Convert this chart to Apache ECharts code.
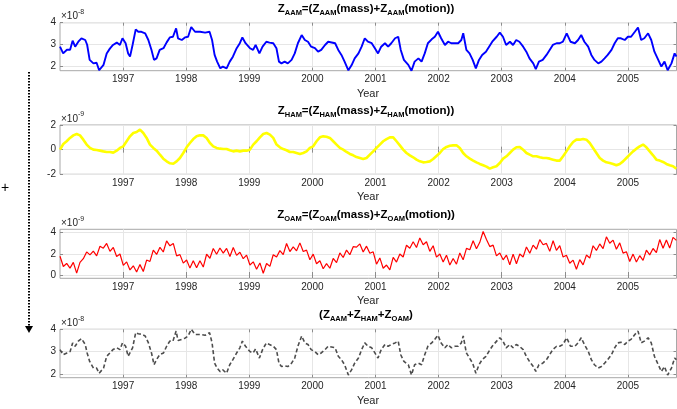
<!DOCTYPE html>
<html><head><meta charset="utf-8">
<script src="https://cdn.jsdelivr.net/npm/echarts@6/dist/echarts.min.js"></script>
<style>html,body{margin:0;padding:0;background:#fff}#c{width:677px;height:409px}</style>
</head><body><div id="c"></div>
<script>
// ---------- tick labels ----------
const yearTicks = [1997, 1998, 1999, 2000, 2001, 2002, 2003, 2004, 2005];
const aamTicks = [2, 3, 4];
const hamTicks = [-2, 0, 2];
const oamTicks = [0, 2, 4];
const totTicks = [2, 3, 4];

// ---------- AAM / total series (decimal years, values in units of the axis exponent) ----------
const aamYears = [
1996.00,1996.05,1996.11,1996.16,1996.20,1996.24,1996.29,1996.34,1996.40,1996.43,
1996.47,1996.53,1996.58,1996.62,1996.69,1996.74,1996.79,1996.84,1996.90,1996.95,
1996.99,1997.04,1997.08,1997.11,1997.15,1997.20,1997.24,1997.29,1997.35,1997.40,
1997.45,1997.49,1997.53,1997.58,1997.64,1997.69,1997.74,1997.79,1997.84,1997.87,
1997.93,1997.98,1998.03,1998.08,1998.14,1998.22,1998.30,1998.37,1998.41,1998.45,
1998.49,1998.54,1998.58,1998.64,1998.69,1998.74,1998.80,1998.85,1998.89,1998.94,
1999.01,1999.06,1999.10,1999.16,1999.21,1999.27,1999.32,1999.38,1999.43,1999.47,
1999.51,1999.56,1999.61,1999.67,1999.72,1999.77,1999.83,1999.88,1999.93,1999.98,
2000.04,2000.09,2000.14,2000.20,2000.25,
2000.28,2000.36,2000.41,2000.46,2000.51,2000.57,2000.62,2000.67,2000.73,2000.78,
2000.83,2000.88,2000.94,2000.99,2001.04,2001.09,2001.15,2001.20,2001.25,2001.31,
2001.36,2001.40,2001.45,2001.52,2001.57,2001.62,2001.68,2001.73,2001.78,2001.83,
2001.89,2001.94,2001.99,2002.04,2002.10,2002.15,2002.20,2002.26,2002.31,2002.36,
2002.39,2002.44,2002.49,2002.54,2002.59,2002.64,2002.69,2002.75,2002.80,2002.85,
2002.92,2002.97,2003.02,2003.07,2003.13,2003.18,2003.23,2003.28,2003.34,2003.39,
2003.44,2003.50,2003.54,2003.59,2003.65,2003.71,2003.76,2003.81,2003.87,2003.92,
2003.97,2004.03,2004.09,2004.16,2004.21,2004.26,2004.31,2004.37,2004.42,2004.47,
2004.53,2004.58,2004.63,2004.68,2004.74,2004.79,2004.84,2004.89,2004.95,2005.00,
2005.05,2005.11,2005.16,2005.21,2005.26,2005.32,2005.37,2005.42,2005.47,2005.53,
2005.58,2005.63,2005.69,2005.74,2005.77];

const aamValues = [
2.89,2.58,2.75,2.75,3.17,2.89,3.12,3.28,3.20,2.98,
2.28,2.12,2.15,1.80,2.05,2.58,2.80,2.97,3.08,2.97,
3.28,3.05,2.58,2.43,2.97,3.69,3.58,3.58,3.51,3.20,
2.74,2.28,2.35,2.74,2.82,3.09,3.32,3.35,3.74,3.28,
3.20,3.32,3.35,3.80,3.58,3.58,3.54,3.58,3.20,2.51,
2.20,1.89,1.97,1.89,2.20,2.43,2.82,3.05,3.32,3.05,
2.82,2.74,2.97,2.58,2.89,3.12,3.08,3.05,2.82,2.20,
2.12,2.20,2.12,2.28,2.58,3.05,3.43,3.20,3.12,2.89,
2.82,2.66,2.74,2.97,3.12,
3.12,3.05,2.74,2.51,2.20,1.80,2.03,2.35,2.58,2.89,
3.28,3.12,3.05,2.82,2.58,2.89,3.05,2.89,3.05,3.28,
3.35,2.74,2.28,2.05,1.78,2.20,2.35,2.20,2.58,3.05,
3.23,3.35,3.58,3.28,2.97,3.12,3.05,3.05,3.05,3.20,
3.51,2.74,2.58,2.28,1.89,2.28,2.51,2.66,2.89,3.12,
3.35,3.54,3.35,2.97,3.12,2.97,3.20,3.12,2.89,2.66,
2.35,2.12,1.85,2.20,2.28,2.51,2.74,2.97,3.05,3.05,
3.12,3.51,3.12,3.05,3.20,3.43,3.12,2.89,2.51,2.28,
2.12,2.20,2.35,2.51,2.74,3.05,3.28,3.28,3.20,3.35,
3.35,3.58,3.78,3.20,3.28,3.51,3.20,2.66,2.35,1.97,
2.20,1.80,2.12,2.58,2.43];

const totValues = [
3.09,2.86,2.94,3.00,3.39,3.24,3.47,3.58,3.32,2.94,
2.56,2.26,2.26,2.03,2.26,2.79,2.94,3.09,3.17,3.09,
3.39,3.24,2.79,2.71,3.17,3.85,3.80,3.78,3.70,3.40,
2.94,2.41,2.64,2.86,2.94,3.24,3.47,3.47,3.92,3.50,
3.55,3.60,3.70,4.00,3.77,3.77,3.73,3.85,3.39,2.48,
2.26,2.10,2.18,2.03,2.41,2.64,2.94,3.17,3.47,3.24,
3.00,2.94,3.12,2.71,3.09,3.39,3.32,3.24,3.09,2.48,
2.33,2.36,2.33,2.48,2.71,3.24,3.70,3.39,3.32,3.09,
3.00,2.86,2.94,3.09,3.24,
3.24,3.17,2.79,2.64,2.41,1.95,2.18,2.48,2.71,3.09,
3.39,3.24,3.17,2.94,2.71,3.09,3.32,3.24,3.32,3.39,
3.47,2.86,2.56,2.41,1.95,2.41,2.48,2.41,2.86,3.24,
3.39,3.55,3.73,3.39,3.17,3.32,3.17,3.24,3.24,3.39,
3.70,2.94,2.71,2.48,2.03,2.41,2.64,2.79,3.02,3.24,
3.47,3.62,3.47,3.17,3.32,3.17,3.32,3.24,3.09,2.79,
2.56,2.33,2.11,2.41,2.48,2.64,2.86,3.09,3.24,3.24,
3.32,3.62,3.24,3.24,3.39,3.62,3.32,3.02,2.64,2.41,
2.26,2.33,2.48,2.64,2.86,3.17,3.39,3.42,3.32,3.47,
3.55,3.77,3.92,3.39,3.47,3.62,3.39,2.79,2.48,2.11,
2.33,1.95,2.26,2.71,2.64];

// ---------- HAM / OAM series on a regular sampling grid ----------
const gridStart = 1996.0;
const gridStep = 0.0528;

const hamValues = [
0,0.46,0.68,0.95,1.16,1.27,1.16,0.81,0.41,0.14,
0,-0.03,-0.08,-0.14,-0.19,-0.19,-0.24,-0.08,0.14,0.27,
0.68,1.08,1.35,1.43,1.62,1.35,0.95,0.41,0.14,-0.08,
-0.41,-0.73,-0.95,-1.11,-1.14,-0.95,-0.68,-0.27,0.19,0.54,
0.86,1.08,1.16,1.16,0.95,0.54,0.27,0.14,0.08,0.05,
0.05,-0.05,-0.14,-0.08,-0.14,-0.08,-0.08,0,0.41,0.68,
1.0,1.27,1.35,1.22,0.95,0.41,0.19,0.05,-0.05,-0.19,
-0.19,-0.27,-0.35,-0.27,-0.14,0.14,0.27,0.68,1.0,1.08,
1.05,0.95,0.68,0.41,0.14,0,-0.19,-0.35,-0.46,-0.6,
-0.68,-0.76,-0.68,-0.41,-0.14,0.14,0.41,0.68,0.86,1.0,
1.0,0.68,0.35,0,-0.27,-0.46,-0.62,-0.81,-0.95,-1.03,
-1.0,-0.95,-0.76,-0.51,-0.27,0.05,0.22,0.32,0.35,0.35,
0.14,-0.27,-0.54,-0.73,-0.89,-1.03,-1.16,-1.27,-1.38,-1.54,
-1.43,-1.35,-1.08,-0.73,-0.54,-0.27,0,0.19,0.22,0,
-0.27,-0.41,-0.54,-0.54,-0.62,-0.68,-0.68,-0.73,-0.81,-0.89,
-0.89,-0.54,-0.14,0.27,0.62,0.81,0.81,0.86,0.81,0.54,
0.14,-0.27,-0.68,-0.89,-1.03,-1.08,-1.16,-1.27,-1.16,-0.95,
-0.68,-0.41,-0.14,0.08,0.27,0.41,0.19,-0.14,-0.46,-0.81,
-0.89,-1.0,-1.16,-1.27,-1.35,-1.54];

const oamValues = [
1.77,0.80,1.09,0.65,1.19,0.18,1.19,1.54,2.18,1.90,
2.25,1.80,2.71,2.53,2.98,2.23,2.60,1.75,1.98,0.91,
1.24,0.48,0.87,0.29,0.98,0.33,1.41,1.28,2.35,1.94,
2.61,2.17,3.22,2.75,2.98,1.80,1.92,1.12,1.41,0.65,
1.34,0.68,1.35,0.75,1.96,1.58,2.50,1.96,2.55,2.06,
2.51,1.75,2.60,1.85,2.14,1.54,1.87,0.95,1.24,0.54,
1.14,0.17,1.09,0.81,1.91,1.69,2.30,1.92,2.97,2.21,
2.66,2.28,3.03,2.22,2.35,1.44,1.97,1.06,1.35,0.59,
1.08,0.64,1.56,1.17,2.08,1.65,2.35,1.91,2.67,2.63,
2.93,2.17,2.72,2.05,2.19,1.02,1.61,0.64,0.94,0.49,
1.66,1.22,1.98,1.70,2.81,2.53,3.13,2.59,3.50,2.85,
3.14,2.23,2.76,1.69,1.98,1.22,1.87,0.95,1.56,1.02,
2.08,1.43,2.51,2.38,3.23,2.48,3.08,4.10,3.35,2.68,
2.82,1.80,2.08,1.43,1.88,0.97,1.97,1.06,1.98,1.70,
2.65,2.05,2.82,2.43,3.34,2.85,2.98,2.23,3.23,2.32,
2.77,1.70,1.87,1.11,1.40,0.54,1.45,0.96,1.88,1.60,
2.76,2.32,2.93,2.48,3.60,3.00,3.29,2.43,3.03,2.06,
2.20,1.28,1.97,1.22,1.82,1.38,2.34,1.90,2.50,2.12,
3.34,2.53,3.30,2.54,3.55,3.27];

// ---------- titles (text pieces, 1 = subscript) ----------
const aamTitle = [['Z',0],['AAM',1],['=(Z',0],['AAM',1],['(mass)+Z',0],['AAM',1],['(motion))',0]];
const hamTitle = [['Z',0],['HAM',1],['=(Z',0],['HAM',1],['(mass)+Z',0],['HAM',1],['(motion))',0]];
const oamTitle = [['Z',0],['OAM',1],['=(Z',0],['OAM',1],['(mass)+Z',0],['OAM',1],['(motion))',0]];
const totTitle = [['(Z',0],['AAM',1],['+Z',0],['HAM',1],['+Z',0],['OAM',1],[')',0]];

const XMIN = 1996.0, XMAX = 2005.77;
const FONT = '"Liberation Sans", Arial, Helvetica, sans-serif';
const gridYears = hamValues.map((_, i) => +(gridStart + i * gridStep).toFixed(4));

const panels = [
  {top: 22.7, height: 48.0, min: 1.78, max: 4.0, ticks: aamTicks, exp: '-8', title: aamTitle,
   data: aamYears.map((t, i) => [t, aamValues[i]]), line: {color: '#0000ff', width: 1.9}},
  {top: 125.0, height: 49.3, min: -2, max: 2, ticks: hamTicks, exp: '-9', title: hamTitle,
   data: gridYears.map((t, i) => [t, hamValues[i]]), line: {color: '#ffff00', width: 2.6}},
  {top: 229.3, height: 49.0, min: -0.31, max: 4.31, ticks: oamTicks, exp: '-9', title: oamTitle,
   data: gridYears.map((t, i) => [t, oamValues[i]]), line: {color: '#ff0000', width: 1.2}},
  {top: 329.3, height: 48.4, min: 1.83, max: 4.0, ticks: totTicks, exp: '-8', title: totTitle,
   data: aamYears.map((t, i) => [t, totValues[i]]), line: {color: '#4d4d4d', width: 1.6, type: [4, 2.5]}}
];

const LEFT = 60, WIDTH = 616.5;
const grid = [], xAxis = [], yAxis = [], series = [], graphic = [];
const tickColor = '#8c8c8c', splitColor = '#e6e6e6', labelColor = '#262626';

panels.forEach((p, i) => {
  grid.push({left: LEFT, top: p.top, width: WIDTH, height: p.height, show: true,
             borderColor: '#a8a8a8', borderWidth: 1, backgroundColor: 'transparent'});
  xAxis.push({gridIndex: i, type: 'value', min: XMIN, max: XMAX, position: 'bottom',
    axisLine: {show: false},
    axisTick: {show: true, inside: true, length: 3, customValues: yearTicks, lineStyle: {color: tickColor}},
    axisLabel: {customValues: yearTicks, fontSize: 10, color: labelColor, margin: 4, fontFamily: FONT,
                formatter: v => String(Math.round(v))},
    splitLine: {show: true, lineStyle: {color: splitColor, width: 1}}});
  xAxis.push({gridIndex: i, type: 'value', min: XMIN, max: XMAX, position: 'top',
    axisLine: {show: false},
    axisTick: {show: true, inside: true, length: 3, customValues: yearTicks, lineStyle: {color: tickColor}},
    axisLabel: {show: false}, splitLine: {show: false}});
  yAxis.push({gridIndex: i, type: 'value', min: p.min, max: p.max, position: 'left',
    axisLine: {show: false},
    axisTick: {show: true, inside: true, length: 3, customValues: p.ticks, lineStyle: {color: tickColor}},
    axisLabel: {customValues: p.ticks, fontSize: 10, color: labelColor, margin: 4, fontFamily: FONT,
                formatter: v => String(v)},
    splitLine: {show: true, lineStyle: {color: splitColor, width: 1}}});
  yAxis.push({gridIndex: i, type: 'value', min: p.min, max: p.max, position: 'right',
    axisLine: {show: false},
    axisTick: {show: true, inside: true, length: 3, customValues: p.ticks, lineStyle: {color: tickColor}},
    axisLabel: {show: false}, splitLine: {show: false}});
  series.push({type: 'line', xAxisIndex: 2 * i, yAxisIndex: 2 * i, data: p.data,
    showSymbol: false, symbol: 'none', lineStyle: p.line, clip: true, silent: true});

  const rich = p.title.map(([t, s]) => (s ? '{s|' + t + '}' : '{m|' + t + '}')).join('');
  graphic.push({type: 'text', x: 366, y: p.top - 14, silent: true, style: {
    text: rich, align: 'center', verticalAlign: 'middle', fill: '#000',
    rich: {
      m: {fontSize: 11.5, fontWeight: 'bold', fontFamily: FONT, fill: '#000', lineHeight: 16, verticalAlign: 'middle'},
      s: {fontSize: 7.5, fontWeight: 'bold', fontFamily: FONT, fill: '#000', lineHeight: 8, verticalAlign: 'bottom'}
    }}});
  graphic.push({type: 'text', x: 61, y: p.top - 1, silent: true, style: {
    text: '{a|\u00d710}{b|' + p.exp + '}', align: 'left', verticalAlign: 'bottom', fill: labelColor,
    rich: {
      a: {fontSize: 10, fontFamily: FONT, fill: labelColor, lineHeight: 13, verticalAlign: 'bottom'},
      b: {fontSize: 7, fontFamily: FONT, fill: labelColor, lineHeight: 7, verticalAlign: 'top'}
    }}});
  graphic.push({type: 'text', x: 368, y: p.top + p.height + 23, silent: true, style: {
    text: 'Year', align: 'center', verticalAlign: 'middle', fill: labelColor,
    fontSize: 11, fontFamily: FONT}});
});

// left "+" and dotted arrow
graphic.push({type: 'line', silent: true, shape: {x1: 29, y1: 72, x2: 29, y2: 326},
  style: {stroke: '#000', lineWidth: 2, lineDash: [1.5, 1.5]}});
graphic.push({type: 'polygon', silent: true, shape: {points: [[25, 326], [33, 326], [29, 333]]},
  style: {fill: '#000'}});
graphic.push({type: 'text', x: 5, y: 188, silent: true, style: {
  text: '+', align: 'center', verticalAlign: 'middle', fill: '#000', fontSize: 14, fontFamily: FONT}});

const chart = echarts.init(document.getElementById('c'), null, {renderer: 'canvas'});
chart.setOption({
  animation: false,
  backgroundColor: '#ffffff',
  grid, xAxis, yAxis, series, graphic
});
</script>
</body></html>
